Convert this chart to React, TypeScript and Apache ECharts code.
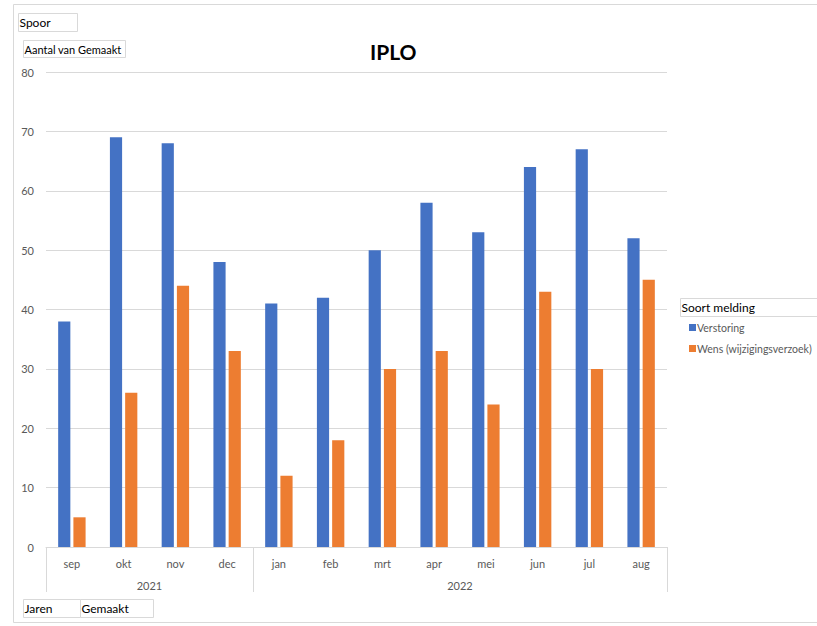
import React, { useEffect, useRef } from "react";
import * as echarts from "echarts";

const months = ["sep", "okt", "nov", "dec", "jan", "feb", "mrt", "apr", "mei", "jun", "jul", "aug"];
const monthYears = ["2021", "2021", "2021", "2021", "2022", "2022", "2022", "2022", "2022", "2022", "2022", "2022"];
const verstoring = [38, 69, 68, 48, 41, 42, 50, 58, 53, 64, 67, 52];
const wens = [5, 26, 44, 33, 12, 18, 30, 33, 24, 43, 30, 45];
const seriesNames = ["Verstoring", "Wens (wijzigingsverzoek)"];

const FONT = "Lato, 'Open Sans', sans-serif";

export default function App() {
  const ref = useRef<HTMLDivElement>(null);
  useEffect(() => {
    if (!ref.current) return;
    const chart = echarts.init(ref.current, undefined, { renderer: "svg" });

    // year groups
    const years: string[] = [];
    const bounds: number[] = [0];
    const centers: number[] = [];
    monthYears.forEach((y, i) => {
      if (years.length === 0 || years[years.length - 1] !== y) {
        if (years.length) bounds.push(i);
        years.push(y);
      }
    });
    bounds.push(months.length);
    for (let i = 0; i < years.length; i++) centers.push((bounds[i] + bounds[i + 1]) / 2);

    const boxText = (x: number, y: number, w: number, h: number, text: string, size = 12) => ({
      type: "group",
      children: [
        { type: "rect", shape: { x, y, width: w, height: h }, style: { fill: "#fff", stroke: "#d9d9d9", lineWidth: 1 } },
        { type: "text", x: x + 1, y: y + h / 2, style: { text, fill: "#000", font: `${size}px ${FONT}`, textVerticalAlign: "middle" } },
      ],
    });

    chart.setOption({
      animation: false,
      backgroundColor: "#fff",
      textStyle: { fontFamily: FONT },
      title: {
        text: "IPLO",
        left: 365,
        top: 36,
        textStyle: { fontSize: 21, fontWeight: "bold", color: "#000", fontFamily: FONT },
      },
      grid: { left: 46, right: 150, top: 72, bottom: 79, containLabel: false },
      legend: {
        orient: "vertical",
        left: 684,
        top: 317,
        icon: "rect",
        itemWidth: 7,
        itemHeight: 7,
        itemGap: 10,
        data: seriesNames,
        textStyle: { fontSize: 10.5, color: "#595959", fontFamily: FONT, padding: [0, 0, 0, -4] },
      },
      xAxis: [
        {
          type: "category",
          data: months,
          axisLine: { show: true, lineStyle: { color: "#d9d9d9" } },
          axisTick: { show: false },
          axisLabel: { color: "#595959", fontSize: 11, margin: 11 },
        },
        {
          type: "value",
          min: 0,
          max: months.length,
          position: "bottom",
          axisLine: { show: false },
          splitLine: { show: false },
          axisTick: { show: true, customValues: bounds, length: 45, lineStyle: { color: "#d9d9d9" } },
          axisLabel: {
            show: true,
            customValues: centers,
            margin: 33,
            color: "#595959",
            fontSize: 11,
            formatter: (v: number) => {
              const idx = centers.indexOf(v);
              return idx >= 0 ? years[idx] : "";
            },
          },
        },
      ],
      yAxis: {
        type: "value",
        min: 0,
        max: 80,
        interval: 10,
        axisLine: { show: false },
        axisTick: { show: false },
        splitLine: { lineStyle: { color: "#d9d9d9" } },
        axisLabel: { color: "#595959", fontSize: 11, margin: 12 },
      },
      series: [
        {
          name: seriesNames[0],
          type: "bar",
          data: verstoring,
          itemStyle: { color: "#4472C4" },
          barGap: "25%",
          barCategoryGap: "47%",
        },
        {
          name: seriesNames[1],
          type: "bar",
          data: wens,
          itemStyle: { color: "#ED7D31" },
        },
      ],
      graphic: [
        { type: "rect", z: -10, shape: { x: 13.5, y: 4.5, width: 820, height: 618 }, style: { fill: "none", stroke: "#d9d9d9", lineWidth: 1 } },
        boxText(18.5, 13.5, 59, 18, "Spoor"),
        boxText(23.5, 40.5, 102, 17, "Aantal van Gemaakt", 11),
        boxText(23.5, 599.5, 57, 18, "Jaren"),
        boxText(80.5, 599.5, 73, 18, "Gemaakt"),
        boxText(680.5, 298.5, 140, 18, "Soort melding"),
      ],
    });
    return () => chart.dispose();
  }, []);
  return <div ref={ref} style={{ position: "fixed", left: 0, top: 0, width: 817, height: 626 }} />;
}
